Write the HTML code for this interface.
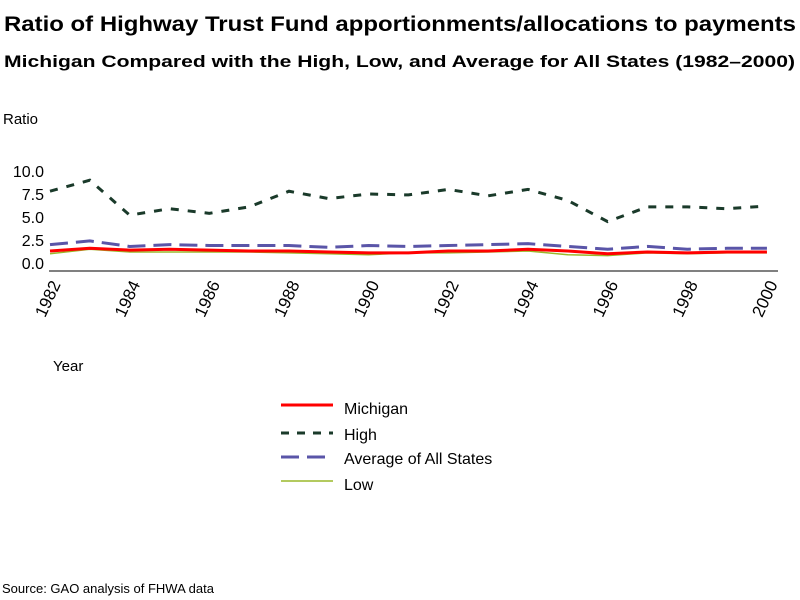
<!DOCTYPE html>
<html><head><meta charset="utf-8"><style>body{margin:0;background:#fff}svg{display:block}text{font-family:"Liberation Sans",sans-serif;fill:#000}</style></head>
<body>
<svg id="s" width="800" height="600" xmlns="http://www.w3.org/2000/svg">
<text x="4" y="31" font-size="21" font-weight="bold" textLength="792" lengthAdjust="spacingAndGlyphs">Ratio of Highway Trust Fund apportionments/allocations to payments</text>
<text x="4" y="67" font-size="17" font-weight="bold" textLength="791" lengthAdjust="spacingAndGlyphs">Michigan Compared with the High, Low, and Average for All States (1982–2000)</text>
<text x="3" y="124" font-size="15">Ratio</text>
<g font-size="16" text-anchor="end">
<text x="44" y="177">10.0</text><text x="44" y="200">7.5</text><text x="44" y="223">5.0</text><text x="44" y="246">2.5</text><text x="44" y="269">0.0</text>
</g>
<line x1="49" y1="271" x2="778" y2="271" stroke="#000" stroke-width="1"/>
<g id="xl" font-size="17"></g>
<text x="53" y="371" font-size="15">Year</text>
<g id="ser"></g>
<line x1="281" y1="405" x2="333" y2="405" stroke="#f00" stroke-width="3"/>
<line x1="281" y1="433" x2="333" y2="433" stroke="#1a3a2a" stroke-width="3" stroke-dasharray="8,8"/>
<line x1="281" y1="457" x2="333" y2="457" stroke="#5a55a8" stroke-width="3" stroke-dasharray="18,8"/>
<line x1="281" y1="481" x2="333" y2="481" stroke="#9ab82a" stroke-width="1.5"/>
<g font-size="16"><text x="344" y="414">Michigan</text><text x="344" y="440">High</text><text x="344" y="464">Average of All States</text><text x="344" y="490">Low</text></g>
<text x="2" y="593" font-size="13">Source: GAO analysis of FHWA data</text>
</svg>
<script>
var ns="http://www.w3.org/2000/svg";
function X(i){return 50+i*39.83}function Y(v){return 263-v*9.2}
var d={
low:[[1.0,1.5,1.2,1.2,1.2,1.2,1.1,1.0,0.9,1.1,1.1,1.2,1.3,0.9,0.8,1.1,1.0,1.1,1.1],"#9ab82a",1.5,""],
mi:[[1.3,1.6,1.4,1.5,1.4,1.3,1.3,1.2,1.1,1.1,1.3,1.3,1.5,1.3,1.0,1.2,1.1,1.2,1.2],"#f00",3,""],
avg:[[2.0,2.4,1.8,2.0,1.9,1.9,1.9,1.7,1.9,1.8,1.9,2.0,2.1,1.8,1.5,1.8,1.5,1.6,1.6],"#5a55a8",3,"18,8"],
hi:[[7.8,9.0,5.2,5.9,5.4,6.1,7.8,7.0,7.5,7.4,8.0,7.3,8.0,6.8,4.5,6.1,6.1,5.9,6.2],"#1a3a2a",3,"8,9"]};
var g=document.getElementById("ser");
for(var k in d){var p=document.createElementNS(ns,"polyline");var a=d[k];
p.setAttribute("points",a[0].map(function(v,i){return X(i)+","+Y(v)}).join(" "));
p.setAttribute("fill","none");p.setAttribute("stroke",a[1]);p.setAttribute("stroke-width",a[2]);
if(a[3])p.setAttribute("stroke-dasharray",a[3]);g.appendChild(p);}
var xl=document.getElementById("xl");
for(var y=1982;y<=2000;y+=2){var t=document.createElementNS(ns,"text");var x=X(y-1982)+11;
t.setAttribute("x",x);t.setAttribute("y",284);t.setAttribute("text-anchor","end");
t.setAttribute("transform","rotate(-65 "+x+" 284)");t.textContent=y;xl.appendChild(t);}
</script>
</body></html>
